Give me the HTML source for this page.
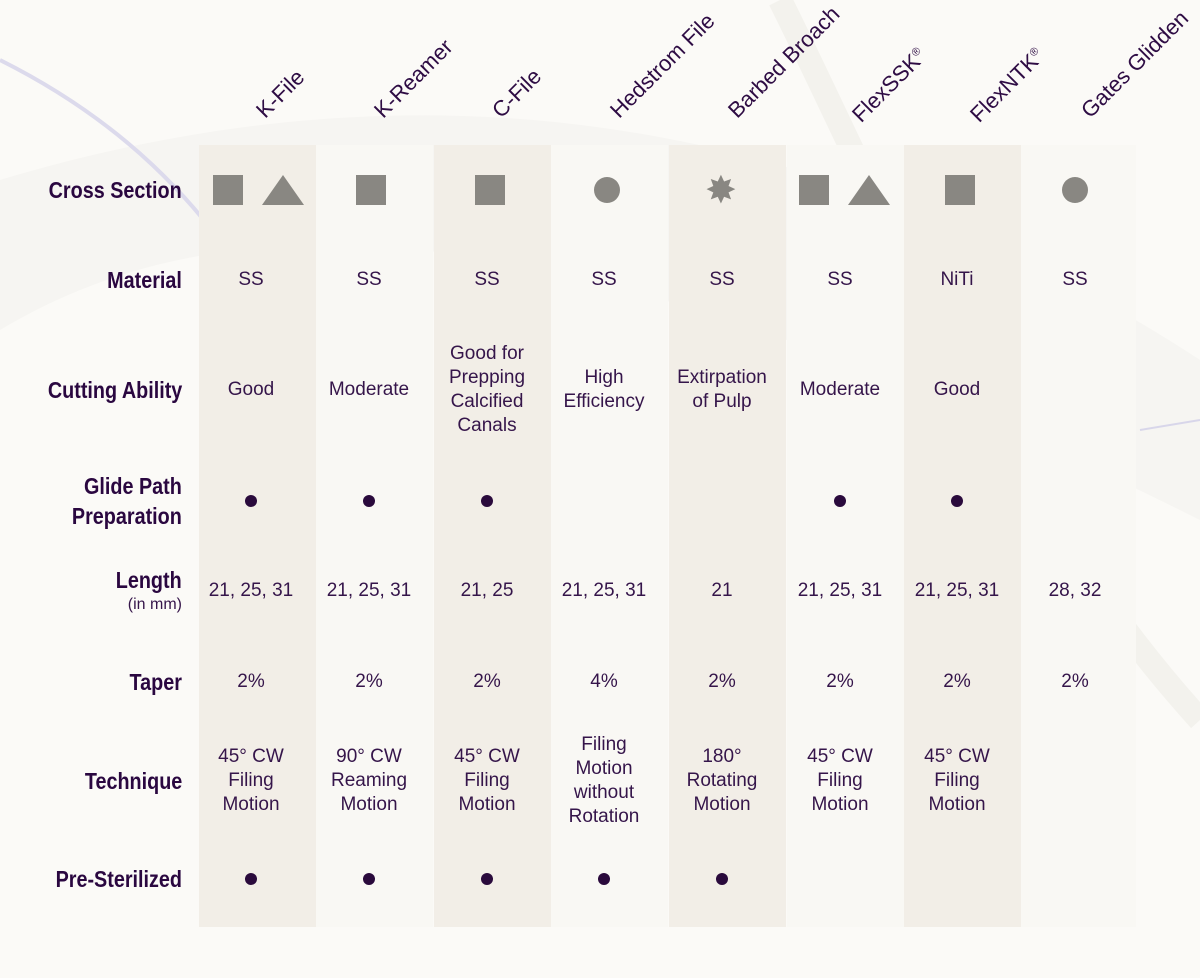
<!DOCTYPE html>
<html><head><meta charset="utf-8"><style>
body{margin:0;width:1200px;height:978px;overflow:hidden;background:#fbfaf7;font-family:"Liberation Sans",sans-serif;color:#35154a;position:relative}
.bg{position:absolute;left:0;top:0}
.col{position:absolute;top:145px;height:782px;width:117px}
.h{position:absolute;font-size:22px;color:#2e0c44;transform-origin:0 100%;transform:rotate(-45deg);white-space:nowrap;line-height:22px}
.h sup{font-size:11px}
.lab{position:absolute;right:1018px;font-weight:bold;font-size:23px;color:#2a0740;text-align:right;line-height:30px;white-space:nowrap;transform:scaleX(0.86);transform-origin:100% 50%}
.c{position:absolute;width:140px;margin-left:-70px;text-align:center;font-size:19px;line-height:24px;transform:translateY(-50%)}
.dot{position:absolute;width:12px;height:12px;border-radius:50%;background:#2a0a3c}
.sq{position:absolute;width:30px;height:30px;background:#898782;top:175px}
.tri{position:absolute;width:0;height:0;border-left:21px solid transparent;border-right:21px solid transparent;border-bottom:30px solid #898782;top:175px}
.ci{position:absolute;width:26px;height:26px;border-radius:50%;background:#898782;top:177px}
</style></head><body>
<svg class="bg" width="1200" height="978">
<path d="M0 330 C250 180 600 220 1200 520 L1200 360 C800 100 400 60 0 180Z" fill="#f3f2ef" opacity="0.7"/>
<path d="M0 60 C120 120 200 200 260 300" stroke="#dcdaec" stroke-width="4" fill="none"/>
<path d="M780 0 C880 200 1000 500 1200 720" stroke="#f3f2ed" stroke-width="24" fill="none"/>
<path d="M1140 430 L1200 420" stroke="#d8d6ea" stroke-width="2"/>
</svg>
<div class="col" style="left:199px;background:#f2eee7"></div>
<div class="col" style="left:316px;background:#f9f8f4"></div>
<div class="col" style="left:434px;background:#f2eee7"></div>
<div class="col" style="left:551px;background:#f9f8f4"></div>
<div class="col" style="left:669px;background:#f2eee7"></div>
<div class="col" style="left:787px;background:#f9f8f4"></div>
<div class="col" style="left:904px;background:#f2eee7"></div>
<div class="col" style="left:1021px;background:#f9f8f4;width:115px"></div>

<div class="h" style="left:268px;top:100px">K-File</div>
<div class="h" style="left:386px;top:100px">K-Reamer</div>
<div class="h" style="left:504px;top:100px">C-File</div>
<div class="h" style="left:622px;top:100px">Hedstrom File</div>
<div class="h" style="left:740px;top:100px">Barbed Broach</div>
<div class="h" style="left:864px;top:100px">FlexSSK<sup>®</sup></div>
<div class="h" style="left:982px;top:100px">FlexNTK<sup>®</sup></div>
<div class="h" style="left:1093px;top:100px">Gates Glidden</div>

<div class="lab" style="top:175px">Cross Section</div>
<div class="lab" style="top:265px">Material</div>
<div class="lab" style="top:375px">Cutting Ability</div>
<div class="lab" style="top:471px">Glide Path<br>Preparation</div>
<div class="lab" style="top:565px">Length</div>
<div style="position:absolute;right:1018px;top:596px;font-size:16px">(in mm)</div>
<div class="lab" style="top:667px">Taper</div>
<div class="lab" style="top:766px">Technique</div>
<div class="lab" style="top:864px">Pre-Sterilized</div>

<div class="sq" style="left:213px"></div><div class="tri" style="left:262px"></div>
<div class="sq" style="left:356px"></div>
<div class="sq" style="left:475px"></div>
<div class="ci" style="left:594px"></div>
<div style="position:absolute;left:705px;top:172px;font-size:38px;line-height:38px;color:#898782">✸</div>
<div class="sq" style="left:799px"></div><div class="tri" style="left:848px"></div>
<div class="sq" style="left:945px"></div>
<div class="ci" style="left:1062px"></div>

<div id="cells"></div>
<script>
var xs=[251,369,487,604,722,840,957,1075];
var rows=[[280,["SS","SS","SS","SS","SS","SS","NiTi","SS"]],
[390,["Good","Moderate","Good for<br>Prepping<br>Calcified<br>Canals","High<br>Efficiency","Extirpation<br>of Pulp","Moderate","Good",""]],
[591,["21, 25, 31","21, 25, 31","21, 25","21, 25, 31","21","21, 25, 31","21, 25, 31","28, 32"]],
[682,["2%","2%","2%","4%","2%","2%","2%","2%"]],
[781,["45° CW<br>Filing<br>Motion","90° CW<br>Reaming<br>Motion","45° CW<br>Filing<br>Motion","Filing<br>Motion<br>without<br>Rotation","180°<br>Rotating<br>Motion","45° CW<br>Filing<br>Motion","45° CW<br>Filing<br>Motion",""]]];
var h="";
rows.forEach(function(r){r[1].forEach(function(t,i){h+='<div class="c" style="left:'+xs[i]+'px;top:'+r[0]+'px">'+t+'</div>';});});
[0,1,2,5,6].forEach(function(i){h+='<div class="dot" style="left:'+(xs[i]-6)+'px;top:495px"></div>';});
[0,1,2,3,4].forEach(function(i){h+='<div class="dot" style="left:'+(xs[i]-6)+'px;top:873px"></div>';});
document.getElementById("cells").innerHTML=h;
</script>
</body></html>
